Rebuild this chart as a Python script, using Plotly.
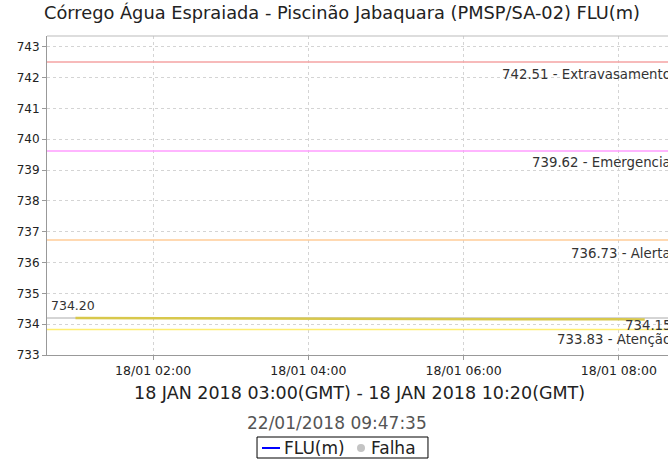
import plotly.graph_objects as go

# ---- data ----
times = ["2018-01-18 01:00", "2018-01-18 02:00", "2018-01-18 03:00", "2018-01-18 04:00",
         "2018-01-18 05:00", "2018-01-18 06:00", "2018-01-18 07:00", "2018-01-18 08:00",
         "2018-01-18 08:20"]
flu = [734.20, 734.19, 734.18, 734.18, 734.17, 734.17, 734.16, 734.16, 734.15]

thr_values = [742.51, 739.62, 736.73, 733.83]
thr_names = ["Extravasamento", "Emergencia", "Alerta", "Atenção"]
thr_colors = ["#f4a3a3", "#ff9cff", "#ffcc99", "#ffee70"]
thr_shift = [-13, -12, -13, -10]

first_val = flu[0]
last_val = flu[-1]

x_range = ["2018-01-18 00:38", "2018-01-18 08:38"]
y_range = [733, 743.35]
tick_vals = ["2018-01-18 02:00", "2018-01-18 04:00", "2018-01-18 06:00", "2018-01-18 08:00"]
tick_text = ["18/01 02:00", "18/01 04:00", "18/01 06:00", "18/01 08:00"]

title = "Córrego Água Espraiada - Piscinão Jabaquara (PMSP/SA-02) FLU(m)"
period = "18 JAN 2018 03:00(GMT) - 18 JAN 2018 10:20(GMT)"
stamp = "22/01/2018 09:47:35"

legend_names = ["FLU(m)", "Falha"]
legend_colors = ["#0000ff", "#c4c4c4"]

FONT = "DejaVu Sans"

fig = go.Figure()

fig.add_trace(go.Scatter(x=times, y=flu, mode="lines", name=legend_names[0],
                         line=dict(color="#d8c84c", width=2.5),
                         showlegend=False))

shapes = []
annotations = []
for v, n, c, s in zip(thr_values, thr_names, thr_colors, thr_shift):
    shapes.append(dict(type="line", xref="paper", x0=0, x1=1, yref="y", y0=v, y1=v,
                       line=dict(color=c, width=1.5), layer="above"))
    annotations.append(dict(xref="paper", x=1.008, xanchor="right", yref="y", y=v,
                            yshift=s, yanchor="middle", showarrow=False,
                            text=f"{v:.2f} - {n}",
                            font=dict(family=FONT, size=13.3, color="#333333")))

# first value reference line
shapes.append(dict(type="line", xref="paper", x0=0, x1=1, yref="y", y0=first_val, y1=first_val,
                   line=dict(color="#aaaaaa", width=1), layer="below"))
annotations.append(dict(xref="paper", x=0.004, xanchor="left", yref="y", y=first_val,
                        yshift=13, yanchor="middle", showarrow=False,
                        text=f"{first_val:.2f}",
                        font=dict(family=FONT, size=12.5, color="#333333")))
annotations.append(dict(xref="paper", x=1.009, xanchor="right", yref="y", y=last_val,
                        yshift=-6, yanchor="middle", showarrow=False,
                        text=f"{last_val:.2f}",
                        font=dict(family=FONT, size=13.3, color="#333333")))

# bottom texts
annotations.append(dict(xref="paper", x=0.504, xanchor="center", yref="paper", y=-0.119,
                        yanchor="middle", showarrow=False, text=period,
                        font=dict(family=FONT, size=17.5, color="#222222")))
annotations.append(dict(xref="paper", x=0.467, xanchor="center", yref="paper", y=-0.213,
                        yanchor="middle", showarrow=False, text=stamp,
                        font=dict(family=FONT, size=17, color="#555555")))

# legend box (drawn)
ly = -0.2915
shapes.append(dict(type="rect", xref="paper", yref="paper", x0=0.3382, x1=0.6135,
                   y0=-0.3229, y1=-0.2571, line=dict(color="#000000", width=1),
                   fillcolor="white"))
shapes.append(dict(type="line", xref="paper", yref="paper", x0=0.3462, x1=0.3752,
                   y0=ly, y1=ly, line=dict(color=legend_colors[0], width=2)))
annotations.append(dict(xref="paper", x=0.3790, xanchor="left", yref="paper", y=ly,
                        yanchor="middle", showarrow=False, text=legend_names[0],
                        font=dict(family=FONT, size=17, color="#222222")))
shapes.append(dict(type="circle", xref="paper", yref="paper", x0=0.4992, x1=0.5121,
                   y0=-0.304, y1=-0.279, line=dict(color=legend_colors[1], width=0),
                   fillcolor=legend_colors[1]))
annotations.append(dict(xref="paper", x=0.5190, xanchor="left", yref="paper", y=ly,
                        yanchor="middle", showarrow=False, text=legend_names[1],
                        font=dict(family=FONT, size=17, color="#222222")))

fig.update_layout(
    width=668, height=468,
    margin=dict(l=47, r=0, t=36, b=113),
    paper_bgcolor="white", plot_bgcolor="white",
    font=dict(family=FONT, size=12, color="#222222"),
    title=dict(text=title, x=0.512, xanchor="center", y=0.972, yanchor="middle",
               font=dict(family=FONT, size=17.8, color="#222222")),
    shapes=shapes, annotations=annotations,
    showlegend=False,
)

fig.update_xaxes(range=x_range, tickvals=tick_vals, ticktext=tick_text,
                 showgrid=True, gridcolor="#d4d4d4", griddash="3px,3px", gridwidth=1,
                 showline=True, linecolor="#999999", linewidth=1, mirror=False,
                 ticks="outside", ticklen=4, tickcolor="#999999",
                 tickfont=dict(family=FONT, size=12.5, color="#222222"), zeroline=False)
fig.update_yaxes(range=y_range, dtick=1, tick0=733,
                 showgrid=True, gridcolor="#d4d4d4", griddash="3px,3px", gridwidth=1,
                 showline=True, linecolor="#999999", linewidth=1,
                 ticks="outside", ticklen=4, tickcolor="#999999",
                 tickfont=dict(family=FONT, size=12, color="#222222"), zeroline=False)
# top frame line
fig.add_shape(type="line", xref="paper", x0=0, x1=1, yref="paper", y0=1, y1=1,
              line=dict(color="#bbbbbb", width=1))

fig.write_html("out.html", config={"displayModeBar": False},
               post_script="document.body.style.margin='0';document.body.style.overflow='hidden';")
